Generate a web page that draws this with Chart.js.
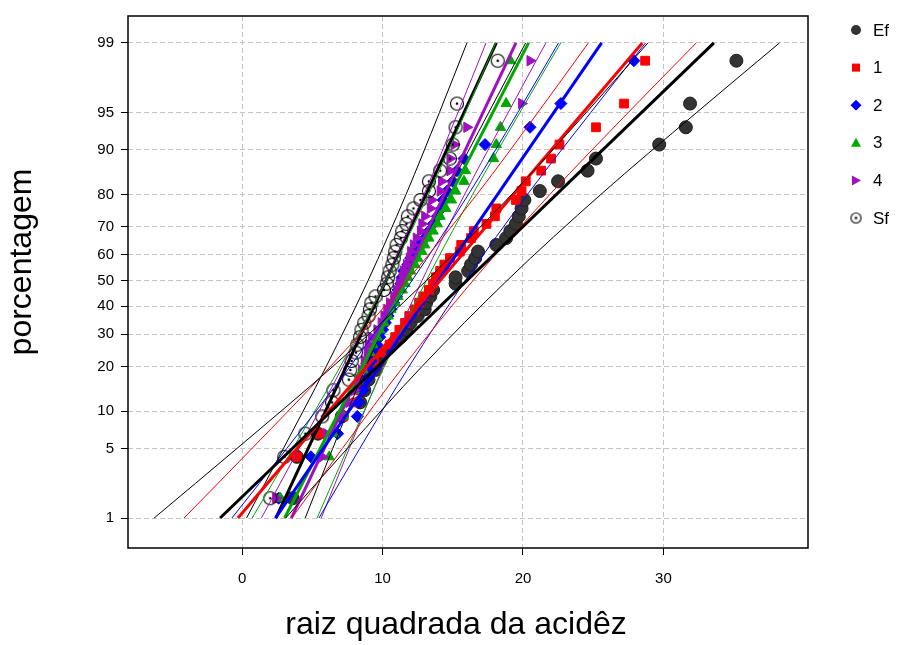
<!DOCTYPE html>
<html lang="pt">
<head>
<meta charset="UTF-8">
<title>Gráfico de probabilidade normal - raiz quadrada da acidêz</title>
<script src="https://cdn.jsdelivr.net/npm/chart.js@4"></script>
<style>
  body { margin: 0; background: #fff; }
</style>
</head>
<body>
<canvas id="grafico" width="900" height="645"></canvas>
<script>
// percentagens (posições de plotagem) comuns aos 40 pontos de cada grupo
const pct = [1.65, 4.21, 6.68, 9.16, 11.63, 14.11, 16.58, 19.06, 21.53, 24.01,
  26.49, 28.96, 31.44, 33.91, 36.39, 38.86, 41.34, 43.81, 46.29, 48.76,
  51.24, 53.71, 56.19, 58.66, 61.14, 63.61, 66.09, 68.56, 71.04, 73.51,
  75.99, 78.47, 80.94, 83.42, 85.89, 88.37, 90.84, 93.32, 95.84, 98.43];

// valores (raiz quadrada da acidêz) ordenados
const ef = [3.6, 3.9, 5.4, 7.1, 8.4, 8.7, 9.0, 9.5, 9.8, 10.0, 10.7, 11.3, 11.7, 12.0, 12.5, 13.0,
  13.1, 13.4, 13.6, 15.2, 15.2, 16.1, 16.3, 16.6, 16.8, 18.1, 18.8, 19.1, 19.5, 19.7, 19.9, 20.1,
  21.2, 22.5, 24.6, 25.2, 29.7, 31.6, 31.9, 35.2];
const g1 = [2.5, 3.9, 5.5, 7.2, 8.1, 8.4, 8.6, 9.0, 9.4, 9.9, 10.5, 10.9, 11.2, 11.6, 11.9, 12.3,
  12.6, 12.9, 13.3, 13.6, 13.8, 14.1, 14.4, 14.8, 15.5, 15.6, 16.3, 16.5, 17.4, 18.0, 18.1, 19.5,
  19.9, 20.2, 21.3, 22.0, 22.6, 25.2, 27.2, 28.7];
const g2 = [2.6, 4.9, 6.8, 8.2, 8.3, 8.6, 8.8, 9.0, 9.2, 9.4, 9.6, 9.8, 10.0, 10.2, 10.4, 10.6,
  10.8, 11.0, 11.1, 11.3, 11.4, 11.5, 11.8, 12.0, 12.3, 12.6, 13.0, 13.3, 13.6, 13.9, 14.2, 14.3,
  14.6, 15.0, 15.3, 15.8, 17.3, 20.5, 22.7, 27.9];
const g3 = [2.7, 6.2, 6.5, 7.2, 7.6, 8.0, 8.3, 8.6, 8.8, 9.1, 9.3, 9.6, 9.8, 10.1, 10.4, 10.6,
  10.9, 11.1, 11.4, 11.6, 11.8, 12.0, 12.3, 12.5, 12.8, 13.0, 13.3, 13.6, 13.9, 14.1, 14.5, 14.9,
  15.2, 15.8, 15.9, 17.9, 18.1, 18.4, 18.8, 19.1];
const g4 = [2.4, 5.7, 6.0, 7.1, 7.6, 8.0, 8.3, 8.5, 8.7, 8.9, 9.0, 9.2, 9.6, 9.9, 10.1, 10.3,
  10.5, 10.8, 11.0, 11.2, 11.4, 11.5, 11.7, 11.9, 12.0, 12.2, 12.4, 12.7, 12.8, 13.0, 13.4, 13.5,
  14.1, 14.2, 14.8, 14.8, 15.1, 16.0, 19.9, 20.5];
const sf = [2.0, 3.0, 4.5, 5.7, 6.4, 6.5, 7.6, 7.7, 7.8, 8.1, 8.2, 8.4, 8.5, 8.7, 9.0, 9.1,
  9.2, 9.5, 10.1, 10.3, 10.4, 10.5, 10.7, 10.8, 10.9, 11.0, 11.3, 11.4, 11.7, 11.8, 12.2, 12.7,
  13.3, 13.3, 14.1, 14.8, 15.0, 15.2, 15.3, 18.2];

// retas ajustadas: valor em 1% e em 99%
const fitPct = [1, 99];
const fitEf = [-1.57, 33.6];
const fit1 = [-0.30, 28.5];
const fit2 = [2.37, 25.6];
const fit3 = [3.02, 20.4];
const fit4 = [3.50, 19.5];
const fitSf = [2.40, 18.1];

// bandas de confiança (95%), lidas em algumas percentagens
const bandPct = [1, 5, 20, 50, 80, 95, 99];
const bandEfLo = [-6.27, -0.37, 6.46, 13.13, 19.19, 24.51, 28.90];
const bandEfHi = [3.10, 7.49, 12.81, 18.87, 25.54, 32.37, 38.27];
const band1Lo = [-4.14, 0.70, 6.29, 11.75, 16.71, 21.06, 24.66];
const band1Hi = [3.54, 7.14, 11.49, 16.45, 21.91, 27.50, 32.34];
const band2Lo = [-0.73, 3.18, 7.69, 12.10, 16.11, 19.63, 22.53];
const band2Hi = [5.47, 8.38, 11.89, 15.90, 20.31, 24.83, 28.73];
const band3Lo = [0.71, 3.62, 6.99, 10.28, 13.27, 15.90, 18.06];
const band3Hi = [5.34, 7.50, 10.13, 13.12, 16.41, 19.78, 22.69];
const band4Lo = [1.37, 4.05, 7.16, 10.19, 12.95, 15.37, 17.37];
const band4Hi = [5.63, 7.63, 10.05, 12.81, 15.84, 18.95, 21.63];
const bandSfLo = [0.31, 2.94, 5.99, 8.97, 11.67, 14.05, 16.01];
const bandSfHi = [4.49, 6.45, 8.83, 11.53, 14.51, 17.56, 20.19];

const yTicks = [1, 5, 10, 20, 30, 40, 50, 60, 70, 80, 90, 95, 99];
const xTicks = [0, 10, 20, 30];

const FONT = '"Liberation Sans", Arial, sans-serif';
const cores = { ef: '#333333', g1: '#ff0000', g2: '#0000ff', g3: '#00a800', g4: '#a010c0', sf: '#000000' };

// inversa da normal padrão (Acklam) para a escala de probabilidade
function probit(p) {
  const a = [-3.969683028665376e+01, 2.209460984245205e+02, -2.759285104469687e+02, 1.383577518672690e+02, -3.066479806614716e+01, 2.506628277459239e+00];
  const b = [-5.447609879822406e+01, 1.615858368580409e+02, -1.556989798598866e+02, 6.680131188771972e+01, -1.328068155288572e+01];
  const c = [-7.784894002430293e-03, -3.223964580411365e-01, -2.400758277161838e+00, -2.549732539343734e+00, 4.374664141464968e+00, 2.938163982698783e+00];
  const d = [7.784695709041462e-03, 3.224671290700398e-01, 2.445134137142996e+00, 3.754408661907416e+00];
  const pl = 0.02425;
  let q, r;
  if (p < pl) {
    q = Math.sqrt(-2 * Math.log(p));
    return (((((c[0]*q+c[1])*q+c[2])*q+c[3])*q+c[4])*q+c[5]) / ((((d[0]*q+d[1])*q+d[2])*q+d[3])*q+1);
  }
  if (p > 1 - pl) {
    q = Math.sqrt(-2 * Math.log(1 - p));
    return -(((((c[0]*q+c[1])*q+c[2])*q+c[3])*q+c[4])*q+c[5]) / ((((d[0]*q+d[1])*q+d[2])*q+d[3])*q+1);
  }
  q = p - 0.5; r = q * q;
  return (((((a[0]*r+a[1])*r+a[2])*r+a[3])*r+a[4])*r+a[5])*q / (((((b[0]*r+b[1])*r+b[2])*r+b[3])*r+b[4])*r+1);
}
function pnorm(z) {
  // aproximação simples, só para getValueForPixel
  const t = 1 / (1 + 0.2316419 * Math.abs(z));
  const y = 0.3989423 * Math.exp(-z * z / 2) * t * (0.3193815 + t * (-0.3565638 + t * (1.781478 + t * (-1.821256 + t * 1.330274))));
  return z > 0 ? 1 - y : y;
}

class ProbitScale extends Chart.LinearScale {
  static id = 'probit';
  static defaults = {};
  buildTicks() {
    return yTicks.map(v => ({ value: v }));
  }
  configure() {
    super.configure();
    this._zMin = probit(this.min / 100);
    this._zMax = probit(this.max / 100);
  }
  getPixelForValue(value) {
    if (value == null || isNaN(value)) return NaN;
    return this.getPixelForDecimal((probit(value / 100) - this._zMin) / (this._zMax - this._zMin));
  }
  getValueForPixel(pixel) {
    const z = this._zMin + this.getDecimalForPixel(pixel) * (this._zMax - this._zMin);
    return 100 * pnorm(z);
  }
}
Chart.register(ProbitScale);

// marcador "Sf": círculo aberto com ponto central
function makeSfMarker(r) {
  const cv = document.createElement('canvas');
  const s = Math.ceil(r * 2 + 3);
  cv.width = s; cv.height = s;
  const c = cv.getContext('2d');
  c.strokeStyle = '#000'; c.lineWidth = 1.1;
  c.beginPath(); c.arc(s / 2, s / 2, r, 0, Math.PI * 2); c.stroke();
  c.fillStyle = '#000';
  c.beginPath(); c.arc(s / 2, s / 2, 1.3, 0, Math.PI * 2); c.fill();
  return cv;
}
const sfMarker = makeSfMarker(6.5);
const sfLegend = makeSfMarker(5);

const pts = xs => xs.map((x, i) => ({ x: x, y: pct[i] }));
const seg = (xs, ps) => xs.map((x, i) => ({ x: x, y: ps[i] }));

function fitLine(xs, cor) {
  return { data: seg(xs, fitPct), showLine: true, borderColor: cor, borderWidth: 3,
    pointRadius: 0, fill: false };
}
function bandLine(xs, cor) {
  return { data: seg(xs, bandPct), showLine: true, borderColor: cor, borderWidth: 1,
    pointRadius: 0, fill: false, cubicInterpolationMode: 'monotone' };
}
function pointSet(xs, cor, style, radius, extra) {
  return Object.assign({ data: pts(xs), showLine: false, pointStyle: style, pointRadius: radius,
    backgroundColor: cor, borderColor: cor, borderWidth: 1 }, extra || {});
}

const datasets = [
  fitLine(fitEf, '#000'), bandLine(bandEfLo, '#000'), bandLine(bandEfHi, '#000'),
  fitLine(fit1, cores.g1), bandLine(band1Lo, cores.g1), bandLine(band1Hi, cores.g1),
  fitLine(fit2, cores.g2), bandLine(band2Lo, cores.g2), bandLine(band2Hi, cores.g2),
  fitLine(fit3, cores.g3), bandLine(band3Lo, cores.g3), bandLine(band3Hi, cores.g3),
  fitLine(fit4, cores.g4), bandLine(band4Lo, cores.g4), bandLine(band4Hi, cores.g4),
  fitLine(fitSf, '#000'), bandLine(bandSfLo, '#000'), bandLine(bandSfHi, '#000'),
  pointSet(sf, '#000', sfMarker, 6.5),
  pointSet(g4, cores.g4, 'triangle', 6, { rotation: 90 }),
  pointSet(g3, cores.g3, 'triangle', 6),
  pointSet(g2, cores.g2, 'rectRot', 6),
  pointSet(g1, cores.g1, 'rect', 6.2),
  pointSet(ef, cores.ef, 'circle', 6.5, { borderColor: '#1e1e1e' })
];

const legendItems = [
  { label: 'Ef', draw: (c, x, y) => { c.fillStyle = cores.ef; c.beginPath(); c.arc(x, y, 5, 0, Math.PI * 2); c.fill(); } },
  { label: '1', draw: (c, x, y) => { c.fillStyle = cores.g1; c.fillRect(x - 4, y - 4, 8, 8); } },
  { label: '2', draw: (c, x, y) => { c.fillStyle = cores.g2; c.beginPath(); c.moveTo(x, y - 5.5); c.lineTo(x + 5.5, y); c.lineTo(x, y + 5.5); c.lineTo(x - 5.5, y); c.closePath(); c.fill(); } },
  { label: '3', draw: (c, x, y) => { c.fillStyle = cores.g3; c.beginPath(); c.moveTo(x, y - 5); c.lineTo(x + 5, y + 4); c.lineTo(x - 5, y + 4); c.closePath(); c.fill(); } },
  { label: '4', draw: (c, x, y) => { c.fillStyle = cores.g4; c.beginPath(); c.moveTo(x + 5, y); c.lineTo(x - 4, y + 5); c.lineTo(x - 4, y - 5); c.closePath(); c.fill(); } },
  { label: 'Sf', draw: (c, x, y) => { c.drawImage(sfLegend, x - sfLegend.width / 2, y - sfLegend.height / 2); } }
];

const decor = {
  id: 'decor',
  afterDraw(chart) {
    const { ctx, chartArea: a } = chart;
    ctx.save();
    ctx.strokeStyle = '#000';
    ctx.lineWidth = 1.5;
    ctx.strokeRect(a.left, a.top, a.right - a.left, a.bottom - a.top);

    ctx.fillStyle = '#000';
    ctx.font = '32px ' + FONT;
    ctx.textAlign = 'center';
    ctx.textBaseline = 'middle';
    ctx.fillText('raiz quadrada da acidêz', 456, 625);
    ctx.save();
    ctx.translate(22, 262);
    ctx.rotate(-Math.PI / 2);
    ctx.fillText('porcentagem', 0, 0);
    ctx.restore();

    ctx.font = '17px ' + FONT;
    ctx.textAlign = 'left';
    legendItems.forEach((it, i) => {
      const y = 30 + i * 37.6;
      it.draw(ctx, 856, y);
      ctx.fillStyle = '#000';
      ctx.fillText(it.label, 873, y + 1);
    });
    ctx.restore();
  }
};

new Chart(document.getElementById('grafico'), {
  type: 'scatter',
  data: { datasets: datasets },
  options: {
    responsive: false,
    devicePixelRatio: 1,
    animation: false,
    events: [],
    layout: { padding: { left: 0, top: 14, right: 92, bottom: 0 } },
    plugins: { legend: { display: false }, tooltip: { enabled: false } },
    scales: {
      x: {
        type: 'linear',
        min: -8.13,
        max: 40.3,
        afterBuildTicks: s => { s.ticks = xTicks.map(v => ({ value: v })); },
        afterFit: s => { s.height = 97; },
        border: { display: false, dash: [5, 3] },
        grid: { color: '#c4c4c4', lineWidth: 1, tickColor: '#000', tickLength: 7, tickBorderDash: [] },
        ticks: { color: '#000', font: { family: FONT, size: 15 }, padding: 15, maxRotation: 0,
          callback: v => String(v) }
      },
      y: {
        type: 'probit',
        min: 0.44,
        max: 99.52,
        afterFit: s => { s.width = 128; },
        border: { display: false, dash: [5, 3] },
        grid: { color: '#c4c4c4', lineWidth: 1, tickColor: '#000', tickLength: 7, tickBorderDash: [] },
        ticks: { color: '#000', font: { family: FONT, size: 15 }, padding: 7,
          callback: v => String(v) }
      }
    }
  },
  plugins: [decor]
});
</script>
</body>
</html>
